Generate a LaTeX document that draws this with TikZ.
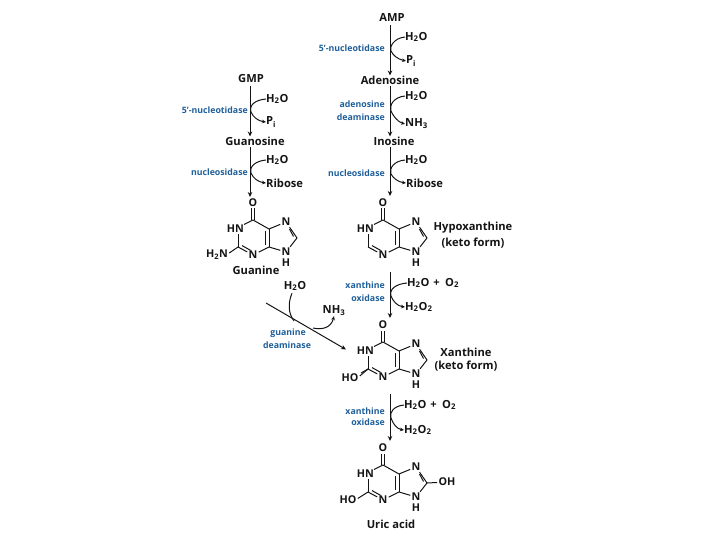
\documentclass[tikz,border=0pt]{standalone}
\usepackage{fontspec}
\setmainfont{Open Sans}
\usetikzlibrary{arrows.meta,calc}
\definecolor{enzblue}{HTML}{1F5F9A}
\definecolor{inkc}{HTML}{141414}
\newcommand{\ts}[1]{\textsubscript{#1}}
\tikzset{
  x=1bp,y=-1bp,
  lab/.style={font=\bfseries\fontsize{11.2}{12}\selectfont,text=inkc,inner sep=0pt},
  sidelab/.style={lab,anchor=west},
  enz/.style={font=\bfseries\fontsize{8.8}{9}\selectfont,text=enzblue,inner sep=0pt,anchor=east},
  enzc/.style={enz,anchor=center},
  atom/.style={font=\bfseries\fontsize{10.8}{12}\selectfont,text=inkc,inner sep=1.2pt},
  main/.style={draw=inkc,line width=1pt,-{Stealth[length=5bp,width=4.5bp]}},
  side/.style={draw=inkc,line width=1pt,-{Stealth[length=4bp,width=3.6bp]}},
  sideplain/.style={draw=inkc,line width=1pt},
  bond/.style={draw=inkc,line width=1pt},
}
\newcommand{\purine}[2]{%
\begin{scope}[shift={(#2)},name prefix=#1]
  \coordinate (c6) at (0,0);
  \coordinate (c5) at (16,9);
  \coordinate (c4) at (16,27);
  \coordinate (c2) at (-15,27);
  \coordinate (c8) at (44,18);
  \node[atom] (o) at (0,-17) {O};
  \node[atom] (n3) at (0,35) {N};
  \node[atom] (n7) at (33,2) {N};
  \node[atom] (n9) at (33,32) {N};
  \node[atom] (h9) at (33,42.5) {H};
  \node[atom,anchor=east,inner sep=0pt] (hn) at (-9,8.5) {HN};
  \draw[bond] (c6) -- (c5);
  \draw[bond] (c6) -- (-9,4.5);
  \draw[bond] (-15,14) -- (c2);
  \draw[bond] (c2) -- (n3);
  \draw[bond] (-11,25.6) -- (-2.5,30.3);
  \draw[bond] (n3) -- (c4);
  \draw[bond] (c4) -- (c5);
  \draw[bond] (12.5,25) -- (12.5,11);
  \draw[bond] (c5) -- (n7);
  \draw[bond] (n7) -- (c8);
  \draw[bond] (36.5,9) -- (40.5,16.5);
  \draw[bond] (c8) -- (n9);
  \draw[bond] (n9) -- (c4);
  \draw[bond] (-1.4,0) -- (-1.4,-11.5);
  \draw[bond] (1.4,0) -- (1.4,-11.5);
\end{scope}}
\begin{document}
\begin{tikzpicture}
\useasboundingbox (0,0) rectangle (720,540);
\coordinate (ax) at (390,0);
\coordinate (gx) at (250,0);
% right column
\node[lab] (AMP) at (392,18) {AMP};
\node[lab] (Ado) at (390,80) {Adenosine};
\node[lab] (Ino) at (394,141) {Inosine};
\draw[main] (ax |- AMP.south) ++(0,3) -- (ax |- Ado.north);
\draw[main] (ax |- Ado.south) ++(0,2) -- (ax |- Ino.north);
\node[sidelab] (w1) at (405,37) {H\ts{2}O};
\node[sidelab] (p1) at (406,61) {P\ts{i}};
\draw[side] (w1.west) .. controls (394,38) and (389,47) .. (391,51) .. controls (393,55) and (397,59) .. (p1.west);
\node[enz] at (385,48) {5'-nucleotidase};
\node[sidelab] (w2) at (405,96) {H\ts{2}O};
\node[sidelab] (a1) at (405,124) {NH\ts{3}};
\draw[side] (w2.west) .. controls (394,97) and (389,105) .. (391,111) .. controls (393,116) and (398,122) .. (a1.west);
\node[enz] at (385,104) {adenosine};
\node[enz] at (385,117) {deaminase};
\node[sidelab] (w3) at (405,160) {H\ts{2}O};
\node[sidelab] (r1) at (406,183) {Ribose};
\draw[side] (w3.west) .. controls (394,161) and (389,168) .. (391,174) .. controls (393,178) and (398,182) .. (r1.west);
\node[enz] at (385,173) {nucleosidase};
\purine{hx-}{383,220}
\draw[main] (ax |- Ino.south) ++(0,2) -- (390,196);
\node[lab] at (473,228) {Hypoxanthine};
\node[lab] at (473,243) {(keto form)};
% xanthine
\purine{xa-}{383,342}
\node[atom] (xho) at (350,377.5) {HO};
\draw[bond] (xho.east) ++(0,-1.5) -- (xa-c2);
\draw[bond] (361,373) -- (368,369);
\node[lab] at (466,352) {Xanthine};
\node[lab] at (466,366) {(keto form)};
\coordinate (x1t) at (390,272);
\coordinate (x1b) at (390,318);
\draw[main] (x1t) -- (x1b);
\node[sidelab] (w4) at (407,283) {H\ts{2}O\,\,+\,\,\,O\ts{2}};
\node[sidelab] (p2) at (405,307) {H\ts{2}O\ts{2}};
\draw[side] (w4.west) .. controls (396,284) and (389,289) .. (391,296) .. controls (393,301) and (397,306) .. (p2.west);
\node[enz] at (385,285) {xanthine};
\node[enz] at (385,298) {oxidase};
% uric acid
\purine{ua-}{383,465}
\node[atom] (uho) at (348,500) {HO};
\draw[bond] (uho.east) ++(0,-1.5) -- (ua-c2);
\node[atom] (uoh) at (447,482) {OH};
\draw[bond] (ua-c8) -- (uoh);
\node[lab] at (391,524) {Uric acid};
\coordinate (x2t) at (390,394);
\coordinate (x2b) at (390,441);
\draw[main] (x2t) -- (x2b);
\node[sidelab] (w5) at (404,405) {H\ts{2}O\,\,+\,\,\,O\ts{2}};
\node[sidelab] (p3) at (404,430) {H\ts{2}O\ts{2}};
\draw[side] (w5.west) .. controls (394,406) and (389,412) .. (391,418) .. controls (393,424) and (397,429) .. (p3.west);
\node[enz] at (385,411) {xanthine};
\node[enz] at (385,422) {oxidase};
% left column
\node[lab] (GMP) at (251,79) {GMP};
\node[lab] (Guo) at (255,141) {Guanosine};
\draw[main] (gx |- GMP.south) ++(0,3) -- (gx |- Guo.north);
\node[sidelab] (w6) at (266,99) {H\ts{2}O};
\node[sidelab] (p4) at (266,122) {P\ts{i}};
\draw[side] (w6.west) .. controls (255,100) and (249,105) .. (251,112) .. controls (253,117) and (258,121) .. (p4.west);
\node[enz] at (248,110) {5'-nucleotidase};
\node[sidelab] (w7) at (266,160) {H\ts{2}O};
\node[sidelab] (r2) at (266,183) {Ribose};
\draw[side] (w7.west) .. controls (255,161) and (249,167) .. (251,173) .. controls (253,178) and (258,182) .. (r2.west);
\node[enz] at (248,172) {nucleosidase};
\purine{gu-}{253,220}
\draw[main] (gx |- Guo.south) ++(0,2) -- (250,197);
\node[atom] (h2n) at (217,255) {H\ts{2}N};
\draw[bond] (h2n.east) ++(0,-2) -- (gu-c2);
\node[lab] at (256,270) {Guanine};
% guanine deaminase
\coordinate (dt) at (266,303);
\coordinate (db) at (346,349.5);
\draw[main] (dt) -- (db);
\node[sidelab,anchor=center] (w8) at (295,286) {H\ts{2}O};
\node[sidelab,anchor=center] (a2) at (334,311) {NH\ts{3}};
\coordinate (dm1) at (294,321);
\coordinate (dm2) at (313,328);
\draw[sideplain] (w8.south) ++(-3,2) .. controls (288,303) and (288,313) .. (dm1);
\draw[side] (dm2) .. controls (322,330) and (331,328) .. (a2.south);
\node[enzc] at (288,333) {guanine};
\node[enzc] at (287,345) {deaminase};
\end{tikzpicture}
\end{document}
